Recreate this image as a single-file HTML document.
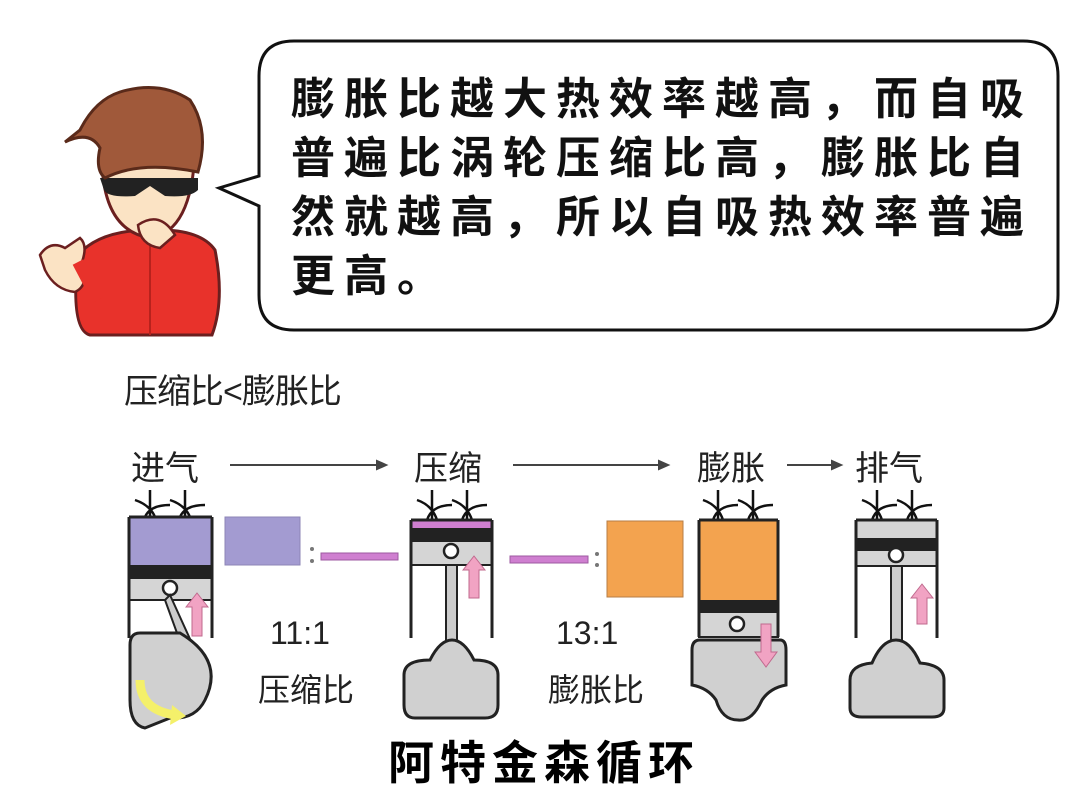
<!DOCTYPE html>
<html><head><meta charset="utf-8"><style>
body{margin:0;width:1080px;height:783px;background:#fff;position:relative;overflow:hidden;font-family:"Liberation Sans","Noto Sans CJK SC",sans-serif;}
.t{position:absolute;white-space:nowrap;color:#111;}
.b{font-size:44px;font-weight:bold;letter-spacing:9px;left:291px;line-height:44px;}
</style></head><body>
<svg width="1080" height="783" style="position:absolute;left:0;top:0">
<!-- bubble -->
<path d="M294,41 H1023 Q1058,41 1058,76 V295 Q1058,330 1023,330 H294 Q259,330 259,295 V206 L219,188 L259,176 V76 Q259,41 294,41 Z" fill="#fff" stroke="#111" stroke-width="3"/>
<!-- character -->
<path d="M78,255 Q70,330 90,335 H212 Q225,300 215,250 Q200,228 150,230 Q100,230 78,255Z" fill="#e8322b" stroke="#6b1f1f" stroke-width="3"/>
<path d="M150,232 V335" stroke="#b8221d" stroke-width="2"/>
<path d="M40,255 Q50,240 65,248 L80,238 Q88,245 82,262 Q90,285 75,292 Q55,290 45,270Z" fill="#fbe3c4" stroke="#6b1f1f" stroke-width="2.5"/>
<path d="M78,262 L98,300" stroke="#e8322b" stroke-width="12"/>
<path d="M102,150 Q100,230 150,238 Q192,232 195,150Z" fill="#fbe3c4" stroke="#6b1f1f" stroke-width="3"/>
<path d="M100,178 H198 V190 Q190,198 165,196 L150,186 L135,196 Q108,198 104,190Z" fill="#222"/>
<path d="M138,225 Q160,210 175,235 L160,248 Q140,245 138,225Z" fill="#fbe3c4" stroke="#6b1f1f" stroke-width="2.5"/>
<path d="M65,142 Q90,130 100,148 Q95,170 105,178 Q140,160 198,172 Q210,130 190,100 Q160,80 120,92 Q95,100 80,130 Z" fill="#a0593a" stroke="#5a2a1a" stroke-width="3"/>
<!-- arrows labels -->
<g stroke="#444" stroke-width="2" fill="#444">
<line x1="230" y1="465" x2="380" y2="465"/><path d="M386,465 L377,461 L377,469Z"/>
<line x1="513" y1="465" x2="662" y2="465"/><path d="M668,465 L659,461 L659,469Z"/>
<line x1="787" y1="465" x2="835" y2="465"/><path d="M841,465 L832,461 L832,469Z"/>
</g>
<g fill="none" stroke="#111" stroke-width="2.5">
<path d="M150,490 V517 M135,500 Q150,505 155,517 M170,505 Q150,505 145,517 M185,490 V517 M170,500 Q185,505 190,517 M205,505 Q185,505 180,517"/>
<path d="M432,490 V520 M417,500 Q432,505 437,520 M452,505 Q432,505 427,520 M467,490 V520 M452,500 Q467,505 472,520 M487,505 Q467,505 462,520"/>
<path d="M718,490 V520 M703,500 Q718,505 723,520 M738,505 Q718,505 713,520 M753,490 V520 M738,500 Q753,505 758,520 M773,505 Q753,505 748,520"/>
<path d="M877,490 V520 M862,500 Q877,505 882,520 M897,505 Q877,505 872,520 M912,490 V520 M897,500 Q912,505 917,520 M932,505 Q912,505 907,520"/>
</g>
<!-- engine 1 -->
<rect x="129" y="517" width="83" height="48" fill="#a39bd1"/>
<rect x="129" y="565" width="83" height="13" fill="#222"/>
<rect x="129" y="578" width="83" height="22" fill="#d5d5d5" stroke="#222" stroke-width="2"/>
<circle cx="170" cy="588" r="7" fill="#fff" stroke="#222" stroke-width="2.5"/>
<path d="M129,517 V638 M212,517 V638 M129,517 H212" stroke="#222" stroke-width="3" fill="none"/>
<path d="M170,595 L195,650 L185,655 L165,600Z" fill="#ccc" stroke="#222" stroke-width="2"/>
<path d="M140,633 H180 Q225,660 205,700 Q195,720 170,718 L145,728 Q130,725 130,700 V645 Q130,633 140,633Z" fill="#d0d0d0" stroke="#222" stroke-width="3"/>
<path d="M140,680 Q140,710 175,715" stroke="#f4f06a" stroke-width="9" fill="none"/>
<path d="M172,705 L186,716 L170,725Z" fill="#f4f06a"/>
<path d="M186,607 L197,593 L208,607 H202 V636 H192 V607Z" fill="#f1a3c3" stroke="#c06a8e" stroke-width="1"/>
<rect x="225" y="517" width="75" height="48" fill="#a39bd1" stroke="#8c86b6"/>
<circle cx="312" cy="549" r="2" fill="#777"/><circle cx="312" cy="561" r="2" fill="#777"/>
<rect x="321" y="553" width="77" height="7" fill="#cf7fd0" stroke="#9d5aa0"/>
<!-- engine 2 -->
<rect x="411" y="520" width="81" height="8" fill="#cf7fd0"/>
<rect x="411" y="528" width="81" height="13" fill="#222"/>
<rect x="411" y="541" width="81" height="24" fill="#d5d5d5" stroke="#222" stroke-width="2"/>
<circle cx="451" cy="551" r="7" fill="#fff" stroke="#222" stroke-width="2.5"/>
<path d="M411,520 V638 M492,520 V638 M411,520 H492" stroke="#222" stroke-width="3" fill="none"/>
<rect x="446" y="565" width="11" height="78" fill="#ccc" stroke="#222" stroke-width="2"/>
<path d="M430,660 Q440,640 452,640 Q464,640 474,660 Q498,660 498,675 V705 Q498,718 485,718 H415 Q404,718 404,705 V675 Q404,660 430,660Z" fill="#d0d0d0" stroke="#222" stroke-width="3"/>
<path d="M463,570 L474,556 L485,570 H479 V598 H469 V570Z" fill="#f1a3c3" stroke="#c06a8e" stroke-width="1"/>
<rect x="510" y="556" width="78" height="7" fill="#cf7fd0" stroke="#9d5aa0"/>
<circle cx="597" cy="554" r="2" fill="#777"/><circle cx="597" cy="565" r="2" fill="#777"/>
<rect x="607" y="521" width="76" height="76" fill="#f3a34f" stroke="#b77c45"/>
<!-- engine 3 -->
<rect x="699" y="520" width="79" height="80" fill="#f3a34f"/>
<rect x="699" y="600" width="79" height="12" fill="#222"/>
<rect x="699" y="612" width="79" height="25" fill="#d5d5d5" stroke="#222" stroke-width="2"/>
<circle cx="737" cy="624" r="7" fill="#fff" stroke="#222" stroke-width="2.5"/>
<path d="M699,520 V637 M778,520 V637 M699,520 H778" stroke="#222" stroke-width="3" fill="none"/>
<path d="M700,640 H780 Q786,640 786,650 V685 Q770,688 762,700 Q752,722 738,720 Q722,720 716,700 Q708,688 692,685 V650 Q692,640 700,640Z" fill="#d0d0d0" stroke="#222" stroke-width="3"/>
<path d="M761,624 H771 V652 H777 L766,667 L755,652 H761Z" fill="#f1a3c3" stroke="#c06a8e" stroke-width="1"/>
<!-- engine 4 -->
<rect x="856" y="520" width="81" height="18" fill="#d5d5d5"/>
<rect x="856" y="538" width="81" height="12" fill="#222"/>
<rect x="856" y="550" width="81" height="16" fill="#d5d5d5" stroke="#222" stroke-width="2"/>
<circle cx="896" cy="555" r="7" fill="#fff" stroke="#222" stroke-width="2.5"/>
<path d="M856,520 V638 M937,520 V638 M856,520 H937" stroke="#222" stroke-width="3" fill="none"/>
<rect x="891" y="566" width="11" height="80" fill="#ccc" stroke="#222" stroke-width="2"/>
<path d="M872,663 Q882,640 896,640 Q910,640 920,663 Q944,665 944,680 V708 Q944,717 932,717 H862 Q850,717 850,708 V680 Q850,665 872,663Z" fill="#d0d0d0" stroke="#222" stroke-width="3"/>
<path d="M911,598 L922,584 L933,598 H927 V624 H917 V598Z" fill="#f1a3c3" stroke="#c06a8e" stroke-width="1"/>
</svg>
<div class="t b" style="top:78px">膨胀比越大热效率越高，而自吸</div>
<div class="t b" style="top:137px">普遍比涡轮压缩比高，膨胀比自</div>
<div class="t b" style="top:196px">然就越高，所以自吸热效率普遍</div>
<div class="t b" style="top:255px">更高。</div>
<div class="t" style="left:124px;top:364px;font-size:34px;color:#222;letter-spacing:-1px">压缩比&lt;膨胀比</div>
<div class="t" style="left:131px;top:441px;font-size:34px;color:#222">进气</div>
<div class="t" style="left:414px;top:441px;font-size:34px;color:#222">压缩</div>
<div class="t" style="left:697px;top:441px;font-size:34px;color:#222">膨胀</div>
<div class="t" style="left:855px;top:441px;font-size:34px;color:#222">排气</div>
<div class="t" style="left:270px;top:615px;font-size:32px;color:#222">11:1</div>
<div class="t" style="left:258px;top:665px;font-size:32px;color:#222">压缩比</div>
<div class="t" style="left:556px;top:615px;font-size:32px;color:#222">13:1</div>
<div class="t" style="left:548px;top:665px;font-size:32px;color:#222">膨胀比</div>
<div class="t" style="left:388px;top:727px;font-size:46px;font-weight:bold;letter-spacing:6px;color:#000">阿特金森循环</div>
</body></html>
